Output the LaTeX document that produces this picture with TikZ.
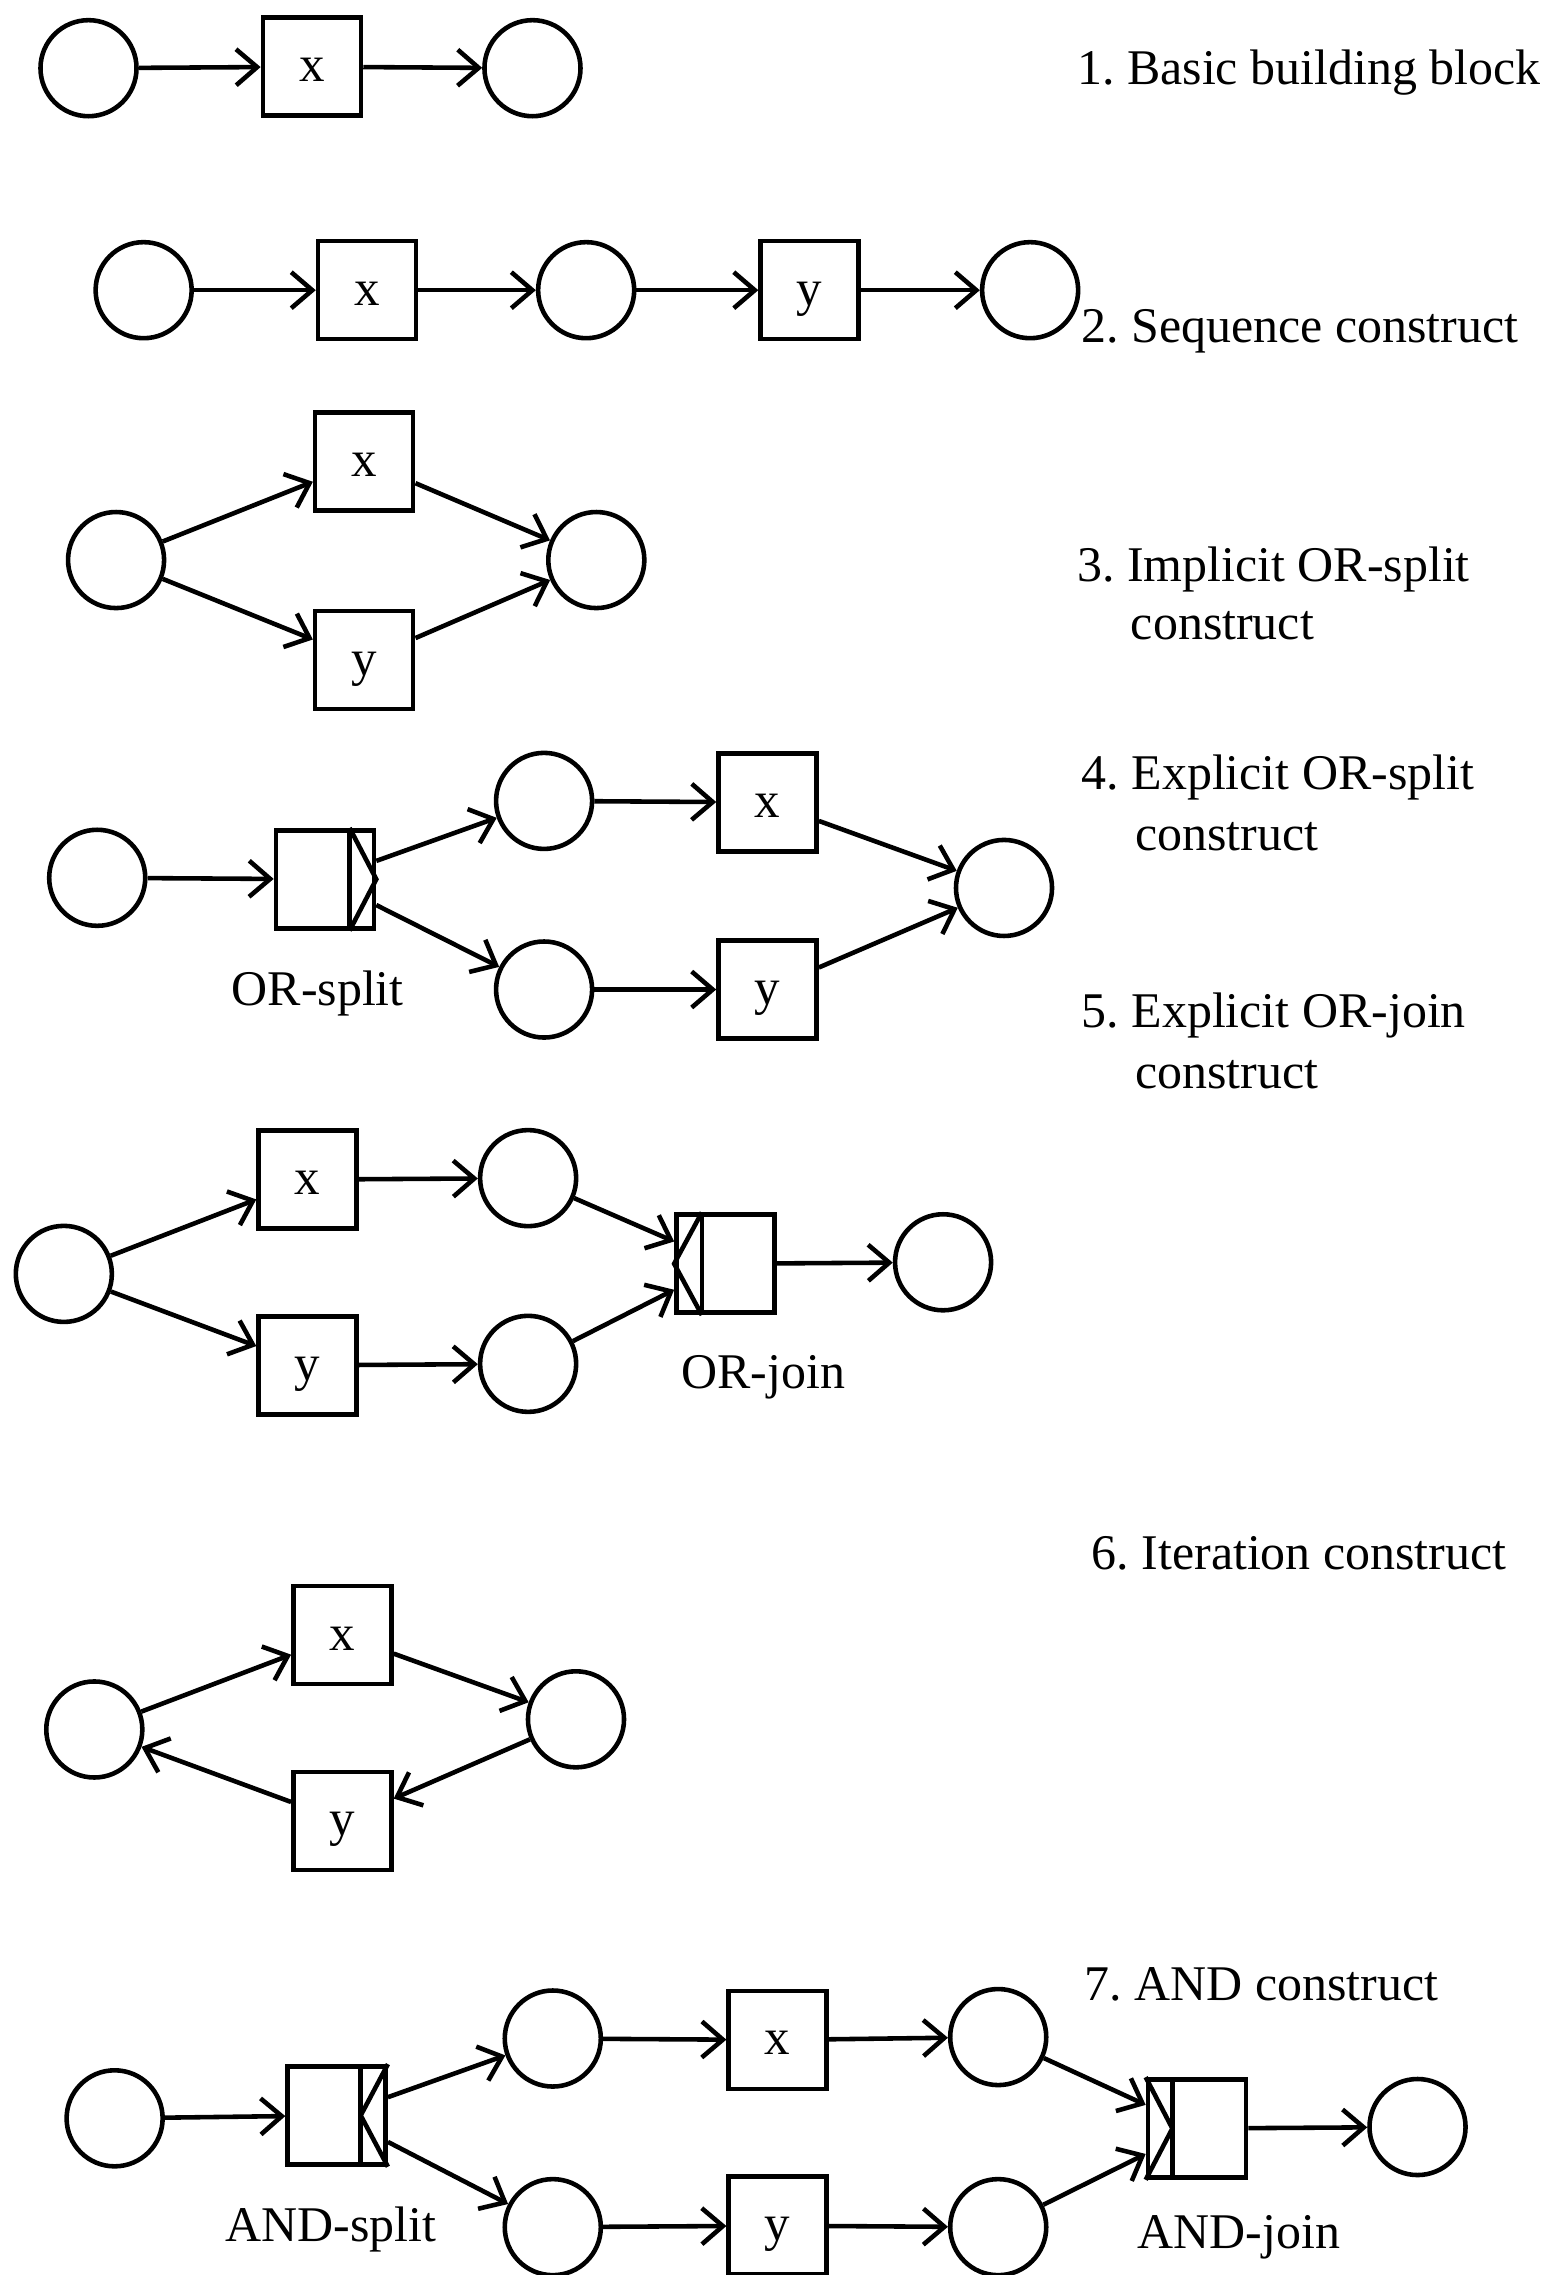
\documentclass[tikz,border=0pt]{standalone}
\usepackage{fontspec}
\setmainfont{Liberation Serif}
\usetikzlibrary{arrows.meta,calc}
\frenchspacing
\begin{document}
\begin{tikzpicture}[x=0.14502mm,y=-0.14502mm,
  place/.style={circle,draw,line width=1.3pt,minimum size=9.6mm,inner sep=0pt},
  trans/.style={rectangle,draw,line width=1.3pt,minimum width=9.8mm,minimum height=9.8mm,inner sep=0pt,text height=0.85em,text depth=0pt,font=\fontsize{14.5}{16}\selectfont},
  arr/.style={line width=1.3pt,-{Straight Barb[length=2.1mm,width=3.6mm,line width=1.3pt]}},
  lab/.style={anchor=base west,inner sep=0pt,font=\fontsize{14.2}{16}\selectfont},
  clab/.style={anchor=base,inner sep=0pt,font=\fontsize{14.2}{16}\selectfont},
  inner/.style={line width=1.3pt}]
\useasboundingbox (0,0) rectangle (1075,1568);
% Row 1
\node[place] (c1a) at (61,47) {};
\node[trans] (b1x) at (215,46) {x};
\node[place] (c1b) at (367,47) {};
\draw[arr] (c1a) -- (b1x);
\draw[arr] (b1x) -- (c1b);
\node[lab] (l1) at (742,58) {1. Basic building block};
% Row 2
\node[place] (c2a) at (99,200) {};
\node[trans] (b2x) at (253,200) {x};
\node[place] (c2b) at (404,200) {};
\node[trans] (b2y) at (558,200) {y};
\node[place] (c2c) at (710,200) {};
\draw[arr] (c2a) -- (b2x);
\draw[arr] (b2x) -- (c2b);
\draw[arr] (c2b) -- (b2y);
\draw[arr] (b2y) -- (c2c);
\node[lab] (l2) at (745,236) {2. Sequence construct};
% Row 3
\node[place] (c3a) at (80,386) {};
\node[trans] (b3x) at (251,318) {x};
\node[trans] (b3y) at (251,455) {y};
\node[place] (c3b) at (411,386) {};
\draw[arr] (c3a) -- (b3x);
\draw[arr] (c3a) -- (b3y);
\draw[arr] (b3x) -- (c3b);
\draw[arr] (b3y) -- (c3b);
\node[lab] (l3a) at (742,401) {3. Implicit OR-split};
\node[lab] (l3b) at (779,441) {construct};
% Row 4
\node[place] (c4a) at (67,605) {};
\node[trans] (os) at (224,606) {};
\draw[inner] ($(os.north west)!0.74!(os.north east)$) -- ($(os.south west)!0.74!(os.south east)$);
\draw[inner] ($(os.north west)!0.74!(os.north east)$) -- (os.east) -- ($(os.south west)!0.74!(os.south east)$);
\node[clab] (losp) at (219,693) {OR-split};
\node[place] (c4b) at (375,552) {};
\node[place] (c4c) at (375,682) {};
\node[trans] (b4x) at (529,553) {x};
\node[trans] (b4y) at (529,682) {y};
\node[place] (c4d) at (692,612) {};
\draw[arr] (c4a) -- (os);
\draw[arr] (os) -- (c4b);
\draw[arr] (os) -- (c4c);
\draw[arr] (c4b) -- (b4x);
\draw[arr] (c4c) -- (b4y);
\draw[arr] (b4x) -- (c4d);
\draw[arr] (b4y) -- (c4d);
\node[lab] (l4a) at (745,544) {4. Explicit OR-split};
\node[lab] (l4b) at (782,586) {construct};
\node[lab] (l5a) at (745,708) {5. Explicit OR-join};
\node[lab] (l5b) at (782,750) {construct};
% Row 5
\node[place] (c5a) at (44,878) {};
\node[trans] (b5x) at (212,813) {x};
\node[trans] (b5y) at (212,941) {y};
\node[place] (c5b) at (364,812) {};
\node[place] (c5c) at (364,940) {};
\node[trans] (oj) at (500,871) {};
\draw[inner] ($(oj.north west)!0.27!(oj.north east)$) -- ($(oj.south west)!0.27!(oj.south east)$);
\draw[inner] ($(oj.north west)!0.27!(oj.north east)$) -- (oj.west) -- ($(oj.south west)!0.27!(oj.south east)$);
\node[place] (c5d) at (650,870) {};
\node[clab] (loj) at (526,957) {OR-join};
\draw[arr] (c5a) -- (b5x);
\draw[arr] (c5a) -- (b5y);
\draw[arr] (b5x) -- (c5b);
\draw[arr] (b5y) -- (c5c);
\draw[arr] (c5b) -- (oj);
\draw[arr] (c5c) -- (oj);
\draw[arr] (oj) -- (c5d);
% Row 6
\node[lab] (l6) at (752,1082) {6. Iteration construct};
\node[place] (c6a) at (65,1192) {};
\node[trans] (b6x) at (236,1127) {x};
\node[trans] (b6y) at (236,1255) {y};
\node[place] (c6b) at (397,1185) {};
\draw[arr] (c6a) -- (b6x);
\draw[arr] (b6x) -- (c6b);
\draw[arr] (c6b) -- (b6y);
\draw[arr] (b6y) -- (c6a);
% Row 7
\node[lab] (l7) at (747,1379) {7. AND construct};
\node[place] (c7a) at (79,1460) {};
\node[trans] (as) at (232,1458) {};
\draw[inner] ($(as.north west)!0.735!(as.north east)$) -- ($(as.south west)!0.735!(as.south east)$);
\draw[inner] (as.north east) -- ($(as.west)!0.735!(as.east)$) -- (as.south east);
\node[clab] (lasp) at (228,1545) {AND-split};
\node[place] (c7b) at (381,1405) {};
\node[place] (c7c) at (381,1535) {};
\node[trans] (b7x) at (536,1406) {x};
\node[trans] (b7y) at (536,1534) {y};
\node[place] (c7d) at (688,1404) {};
\node[place] (c7e) at (688,1535) {};
\node[trans] (aj) at (825,1467) {};
\draw[inner] ($(aj.north west)!0.26!(aj.north east)$) -- ($(aj.south west)!0.26!(aj.south east)$);
\draw[inner] (aj.north west) -- ($(aj.west)!0.26!(aj.east)$) -- (aj.south west);
\node[clab] (laj) at (854,1550) {AND-join};
\node[place] (c7f) at (977,1466) {};
\draw[arr] (c7a) -- (as);
\draw[arr] (as) -- (c7b);
\draw[arr] (as) -- (c7c);
\draw[arr] (c7b) -- (b7x);
\draw[arr] (c7c) -- (b7y);
\draw[arr] (b7x) -- (c7d);
\draw[arr] (b7y) -- (c7e);
\draw[arr] (c7d) -- (aj);
\draw[arr] (c7e) -- (aj);
\draw[arr] (aj) -- (c7f);
\end{tikzpicture}
\end{document}
